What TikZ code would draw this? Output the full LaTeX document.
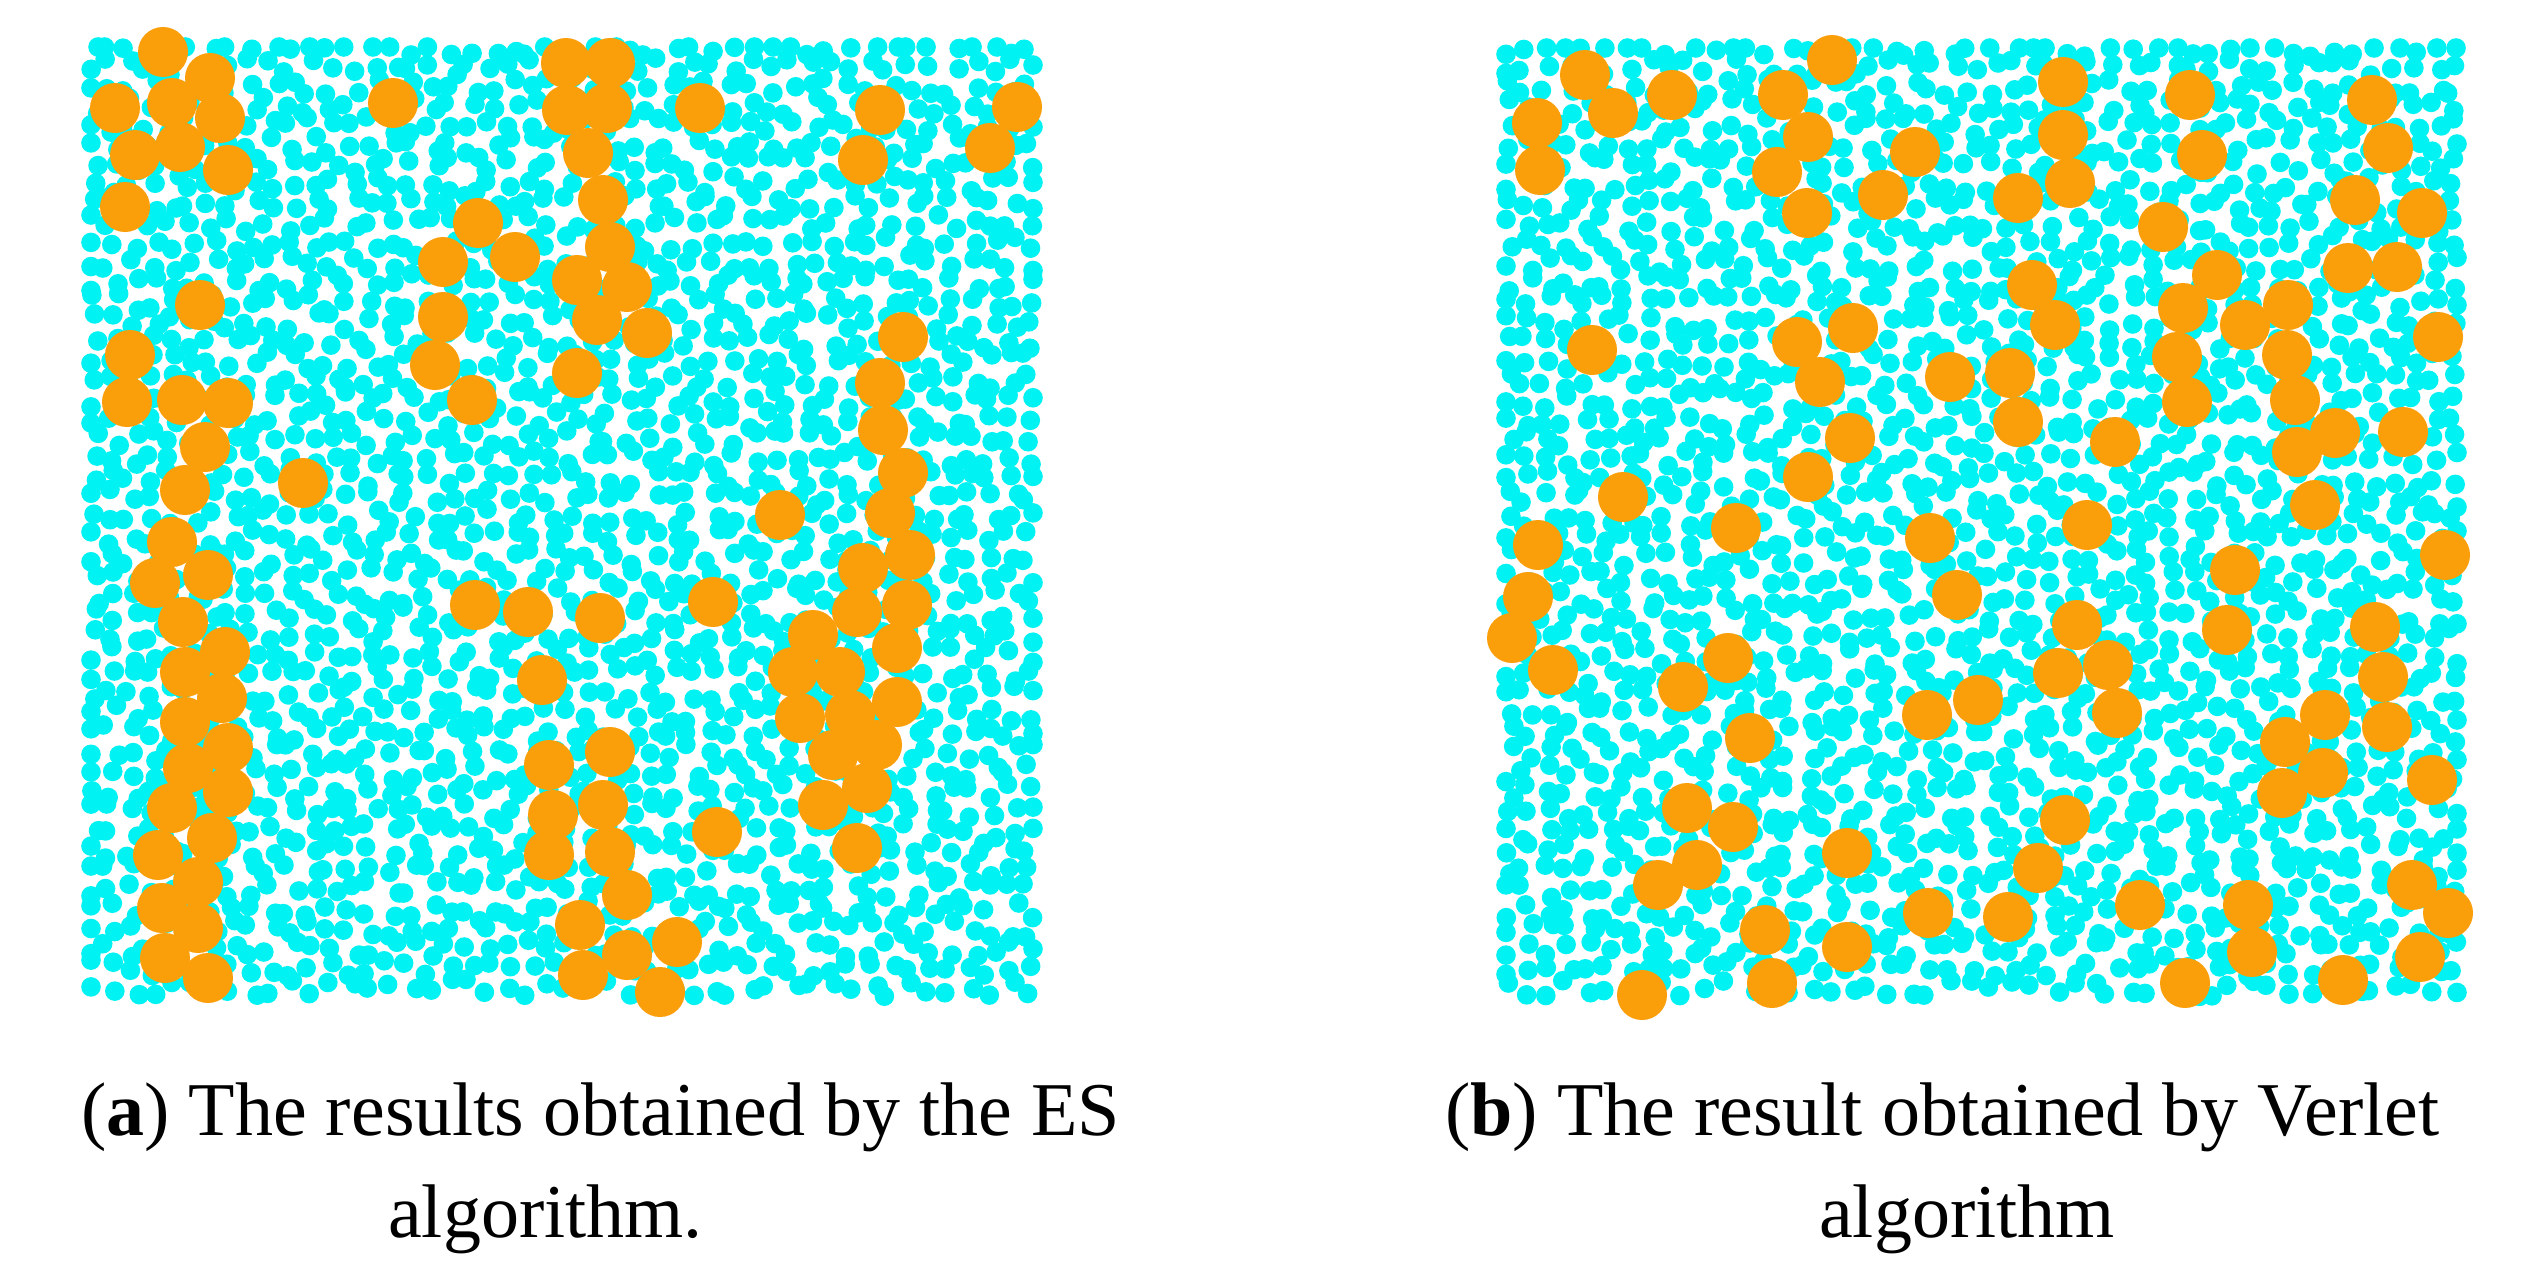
\documentclass[tikz,border=0pt]{standalone}
\usepackage{fontspec}
\setmainfont{Liberation Serif}
\definecolor{dotcyan}{RGB}{0,242,242}
\definecolor{dotorange}{RGB}{250,158,10}
\tikzset{
  cyandot/.style={fill=dotcyan},
  orangedot/.style={fill=dotorange},
  captext/.style={inner sep=0pt, anchor=base west, font=\fontsize{76}{90}\selectfont}
}
\begin{document}
\begin{tikzpicture}[x=1pt,y=-1pt]
\fill[white] (0,0) rectangle (2535,1277);
\useasboundingbox (0,0) rectangle (2535,1277);
\pgfmathsetseed{4711}
% panel (a): small particles on a jittered grid
\foreach \i in {0,...,47}{
  \foreach \j in {0,...,48}{
    \pgfmathsetmacro\xx{min(max(91+\i*20.0+8.5*rand,91),1033)}
    \pgfmathsetmacro\yy{min(max(47+\j*19.6+8.5*rand,47),999)}
    \fill[cyandot] (\xx,\yy) circle[radius=9.8pt];
  }
}
% panel (b)
\foreach \i in {0,...,47}{
  \foreach \j in {0,...,48}{
    \pgfmathsetmacro\xx{min(max(1506+\i*20.2+8.5*rand,1506),2457)}
    \pgfmathsetmacro\yy{min(max(48+\j*19.6+8.5*rand,48),1000)}
    \fill[cyandot] (\xx,\yy) circle[radius=9.8pt];
  }
}
% large particles, panel (a)
\foreach \p in {(163,52),(210,78),(115,108),(172,103),(220,118),(135,155),(180,147),(228,170),(125,207),
(393,103),
(478,223),(515,257),(443,262),(443,317),(435,365),(472,400),
(200,305),(130,355),(127,402),(182,400),(228,403),(205,447),(185,490),(303,483),
(566,63),(610,63),(567,110),(607,108),(700,108),(588,153),(603,200),(610,247),(577,280),(627,287),(597,320),(647,333),(577,373),
(880,110),(863,160),(1017,107),(990,148),
(903,337),(880,383),(883,430),(903,473),(890,513),(780,515),
(172,542),(155,583),(208,575),(183,622),(225,652),(185,672),(222,698),(185,722),(228,748),(188,768),(228,792),(172,808),(212,838),(158,855),(198,882),(162,908),(198,928),(165,958),(208,978),
(475,605),(528,612),(542,680),
(910,555),(863,568),(907,605),(857,612),(813,635),(897,648),(793,672),(840,672),(897,702),(800,718),(850,715),(877,745),(833,755),(867,788),(823,805),(857,848),
(600,618),(713,602),(610,752),(549,765),(603,805),(553,815),(610,852),(549,855),(627,895),(580,925),(627,955),(583,975),(677,942),(660,992),(717,832)}
  {\fill[orangedot] \p circle[radius=25pt];}
% large particles, panel (b)
\foreach \p in {(1585,75),(1613,113),(1537,123),(1540,170),(1672,95),(1783,95),(1832,60),(1808,137),(1777,172),(1807,213),(1915,152),(1883,195),(1592,350),(1797,342),(1853,328),(1820,382),(1950,377),(1850,438),(1808,477),(1623,497),(1736,528),
(2063,82),(2063,135),(2070,183),(2018,198),(2190,95),(2202,155),(2163,227),(2372,100),(2388,148),(2355,200),(2422,213),(2348,268),(2397,267),(2032,285),(2055,325),(2010,373),(2018,422),(2115,442),(2217,275),(2183,308),(2245,325),(2288,305),(2287,355),(2177,357),(2187,402),(2295,400),(2335,433),(2297,452),(2438,337),(2403,432),(2315,505),(2087,525),
(1538,545),(1528,597),(1512,638),(1553,670),(1930,538),(1957,595),(1728,658),(1683,687),(1750,738),(1927,715),(1978,700),(1687,808),(1733,827),(1697,865),(1658,885),(1847,853),(1928,913),(1765,930),(1847,947),(1772,983),(1642,995),
(2235,570),(2445,555),(2077,625),(2058,673),(2108,665),(2117,713),(2227,630),(2375,627),(2383,677),(2325,715),(2387,727),(2285,742),(2323,773),(2282,793),(2432,780),(2065,820),(2038,868),(2008,917),(2140,905),(2248,905),(2252,952),(2185,983),(2343,980),(2412,885),(2448,913),(2420,957)}
  {\fill[orangedot] \p circle[radius=25pt];}
% captions
\node[captext] (capa1) at (81,1135) {(\textbf{a}) The results obtained by the ES};
\node[captext] (capa2) at (388,1237) {algorithm.};
\node[captext] (capb1) at (1445,1135) {(\textbf{b}) The result obtained by Verlet};
\node[captext] (capb2) at (1819,1237) {algorithm};
\end{tikzpicture}
\end{document}
